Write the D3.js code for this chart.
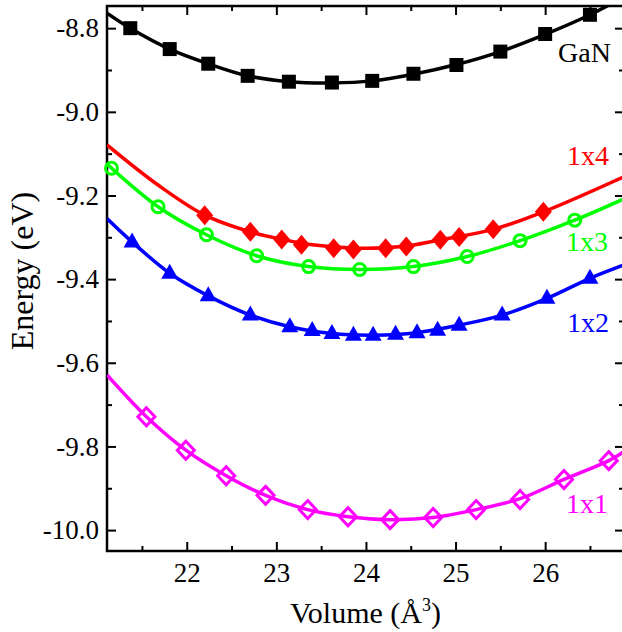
<!DOCTYPE html>
<html>
<head>
<meta charset="utf-8">
<script src="https://cdn.jsdelivr.net/npm/d3@7/dist/d3.min.js"></script>
<style>
  html, body { margin: 0; padding: 0; background: #fff; }
  svg text { font-family: "Liberation Serif", "Times New Roman", serif; }
</style>
</head>
<body>
<div id="grafica"></div>
<script>
// Datos (volumen en A^3, energia en eV)
var ganVol = [21.37, 21.81, 22.24, 22.68, 23.14, 23.62, 24.07, 24.53, 25.01, 25.50, 26.00, 26.50];
var ganE   = [-8.800, -8.850, -8.885, -8.914, -8.928, -8.930, -8.926, -8.909, -8.888, -8.856, -8.814, -8.768];
var ganFitVol = [21.11, 21.37, 21.81, 22.24, 22.68, 23.14, 23.62, 24.07, 24.53, 25.01, 25.50, 26.00, 26.50, 26.88];
var ganFitE   = [-8.764, -8.800, -8.850, -8.885, -8.914, -8.928, -8.931, -8.926, -8.910, -8.887, -8.856, -8.815, -8.768, -8.725];

var x4Vol = [22.20, 22.71, 23.06, 23.28, 23.64, 23.86, 24.22, 24.45, 24.83, 25.04, 25.42, 25.98];
var x4E   = [-9.247, -9.287, -9.305, -9.318, -9.326, -9.329, -9.326, -9.322, -9.306, -9.299, -9.281, -9.239];
var x4FitVol = [21.11, 21.68, 22.20, 22.71, 23.06, 23.40, 23.90, 24.40, 24.83, 25.42, 25.98, 26.88];
var x4FitE   = [-9.079, -9.175, -9.247, -9.287, -9.305, -9.318, -9.326, -9.322, -9.306, -9.281, -9.239, -9.155];

var x3Vol = [21.16, 21.68, 22.22, 22.78, 23.36, 23.93, 24.53, 25.13, 25.72, 26.33];
var x3E   = [-9.135, -9.227, -9.294, -9.344, -9.370, -9.377, -9.370, -9.346, -9.308, -9.259];
var x3FitVol = [21.11, 21.68, 22.22, 22.78, 23.36, 23.93, 24.53, 25.13, 25.72, 26.33, 26.88];
var x3FitE   = [-9.125, -9.227, -9.294, -9.344, -9.370, -9.377, -9.370, -9.346, -9.308, -9.259, -9.208];

var x2Vol = [21.39, 21.81, 22.24, 22.71, 23.15, 23.40, 23.62, 23.86, 24.08, 24.33, 24.57, 24.80, 25.04, 25.52, 26.02, 26.50];
var x2E   = [-9.311, -9.386, -9.440, -9.486, -9.514, -9.523, -9.530, -9.534, -9.534, -9.532, -9.528, -9.522, -9.510, -9.486, -9.446, -9.398];
var x2FitVol = [21.11, 21.39, 21.81, 22.24, 22.71, 23.15, 23.62, 24.08, 24.57, 25.04, 25.52, 26.02, 26.50, 26.88];
var x2FitE   = [-9.255, -9.311, -9.386, -9.440, -9.486, -9.514, -9.530, -9.534, -9.528, -9.510, -9.486, -9.446, -9.398, -9.366];

var x1Vol = [21.55, 21.99, 22.44, 22.88, 23.35, 23.80, 24.27, 24.75, 25.23, 25.72, 26.21, 26.71];
var x1E   = [-9.729, -9.809, -9.870, -9.917, -9.951, -9.968, -9.975, -9.970, -9.951, -9.927, -9.879, -9.834];
var x1FitVol = [21.11, 21.55, 21.99, 22.44, 22.88, 23.35, 23.80, 24.27, 24.75, 25.23, 25.72, 26.21, 26.71, 26.88];
var x1FitE   = [-9.629, -9.729, -9.809, -9.870, -9.917, -9.951, -9.968, -9.975, -9.970, -9.951, -9.925, -9.879, -9.834, -9.812];

var xTicks = [22, 23, 24, 25, 26];
var xMinor = [21.5, 22.5, 23.5, 24.5, 25.5, 26.5];
var yTicks = [-8.8, -9.0, -9.2, -9.4, -9.6, -9.8, -10.0];
var yMinor = [-8.9, -9.1, -9.3, -9.5, -9.7, -9.9];

var W = 622, H = 632;
var L = 107, R = 624, T = 6, B = 551;

var svg = d3.select("#grafica").append("svg")
    .attr("width", W).attr("height", H);

var x = d3.scaleLinear().domain([21.11, 26.88]).range([L, R]);
var y = d3.scaleLinear().domain([-10.05, -8.747]).range([B, T]);

svg.append("clipPath").attr("id", "area")
  .append("rect").attr("x", L).attr("y", T).attr("width", R - L).attr("height", B - T);

// ejes con ticks hacia adentro
function ejes() {
  var fmt = function(d) { return d.toFixed(1); };
  svg.append("g").attr("transform", "translate(0," + B + ")")
    .call(d3.axisBottom(x).tickValues(xTicks).tickSizeInner(-9).tickSizeOuter(0).tickPadding(12).tickFormat(d3.format("d")));
  svg.append("g").attr("transform", "translate(0," + B + ")")
    .call(d3.axisBottom(x).tickValues(xMinor).tickSizeInner(-5).tickSizeOuter(0).tickFormat(""));
  svg.append("g").attr("transform", "translate(0," + T + ")")
    .call(d3.axisTop(x).tickValues(xTicks).tickSizeInner(-9).tickSizeOuter(0).tickFormat(""));
  svg.append("g").attr("transform", "translate(0," + T + ")")
    .call(d3.axisTop(x).tickValues(xMinor).tickSizeInner(-5).tickSizeOuter(0).tickFormat(""));
  svg.append("g").attr("transform", "translate(" + L + ",0)")
    .call(d3.axisLeft(y).tickValues(yTicks).tickSizeInner(-9).tickSizeOuter(0).tickPadding(8).tickFormat(fmt));
  svg.append("g").attr("transform", "translate(" + L + ",0)")
    .call(d3.axisLeft(y).tickValues(yMinor).tickSizeInner(-5).tickSizeOuter(0).tickFormat(""));
  svg.append("g").attr("transform", "translate(" + R + ",0)")
    .call(d3.axisRight(y).tickValues(yTicks).tickSizeInner(-9).tickSizeOuter(0).tickFormat(""));
  svg.append("g").attr("transform", "translate(" + R + ",0)")
    .call(d3.axisRight(y).tickValues(yMinor).tickSizeInner(-5).tickSizeOuter(0).tickFormat(""));

  svg.selectAll(".domain").remove();
  svg.selectAll(".tick line").attr("stroke", "#000").attr("stroke-width", 2);
  svg.selectAll(".tick text").attr("fill", "#000").style("font-size", "27px");

  svg.append("rect")
    .attr("x", L).attr("y", T).attr("width", R - L).attr("height", B - T)
    .attr("fill", "none").attr("stroke", "#000").attr("stroke-width", 2.5);
}

var linea = d3.line()
  .x(function(d) { return x(d[0]); })
  .y(function(d) { return y(d[1]); })
  .curve(d3.curveCatmullRom.alpha(0.5));

function serie(vol, e, fitVol, fitE, color, tipo) {
  var fit = d3.zip(fitVol, fitE);
  var pts = d3.zip(vol, e);

  svg.append("path")
    .datum(fit)
    .attr("clip-path", "url(#area)")
    .attr("d", linea)
    .attr("fill", "none")
    .attr("stroke", color)
    .attr("stroke-width", 3.5);

  var g = svg.append("g");
  var m = g.selectAll("path").data(pts).enter().append("path")
    .attr("transform", function(d) { return "translate(" + x(d[0]) + "," + y(d[1]) + ")"; });

  if (tipo == "square") {
    m.attr("d", "M-7,-7H7V7H-7Z").attr("fill", color);
  } else if (tipo == "diamond") {
    m.attr("d", "M0,-10L8.5,0L0,10L-8.5,0Z").attr("fill", color);
  } else if (tipo == "triangle") {
    m.attr("d", "M0,-9.5L8.5,5.5L-8.5,5.5Z").attr("fill", color);
  } else if (tipo == "circle") {
    m.attr("d", d3.symbol().type(d3.symbolCircle).size(Math.PI * 36))
      .attr("fill", "none").attr("stroke", color).attr("stroke-width", 3);
  } else if (tipo == "odiamond") {
    m.attr("d", "M0,-9L8.5,0L0,9L-8.5,0Z")
      .attr("fill", "none").attr("stroke", color).attr("stroke-width", 3);
  }
}

ejes();

serie(ganVol, ganE, ganFitVol, ganFitE, "#000000", "square");
serie(x4Vol, x4E, x4FitVol, x4FitE, "#ff0000", "diamond");
serie(x3Vol, x3E, x3FitVol, x3FitE, "#00ff00", "circle");
serie(x2Vol, x2E, x2FitVol, x2FitE, "#0000ff", "triangle");
serie(x1Vol, x1E, x1FitVol, x1FitE, "#ff00ff", "odiamond");

// etiquetas de cada curva
var etiquetas = [
  { t: "GaN", c: "#000000", x: 558, y: 62 },
  { t: "1x4", c: "#ff0000", x: 567, y: 165 },
  { t: "1x3", c: "#00ff00", x: 566, y: 251 },
  { t: "1x2", c: "#0000ff", x: 567, y: 332 },
  { t: "1x1", c: "#ff00ff", x: 566, y: 513 }
];
svg.selectAll(".etq").data(etiquetas).enter().append("text")
  .attr("class", "etq")
  .attr("x", function(d) { return d.x; })
  .attr("y", function(d) { return d.y; })
  .attr("fill", function(d) { return d.c; })
  .style("font-size", "28px")
  .text(function(d) { return d.t; });

// titulos de los ejes
var tx = svg.append("text")
  .attr("x", (L + R) / 2).attr("y", 623)
  .attr("text-anchor", "middle")
  .style("font-size", "30px");
tx.append("tspan").text("Volume (\u00C5");
tx.append("tspan").attr("dy", -12).style("font-size", "18px").text("3");
tx.append("tspan").attr("dy", 12).text(")");

svg.append("text")
  .attr("transform", "translate(33,271) rotate(-90)")
  .attr("text-anchor", "middle")
  .style("font-size", "32px")
  .text("Energy (eV)");
</script>
</body>
</html>
